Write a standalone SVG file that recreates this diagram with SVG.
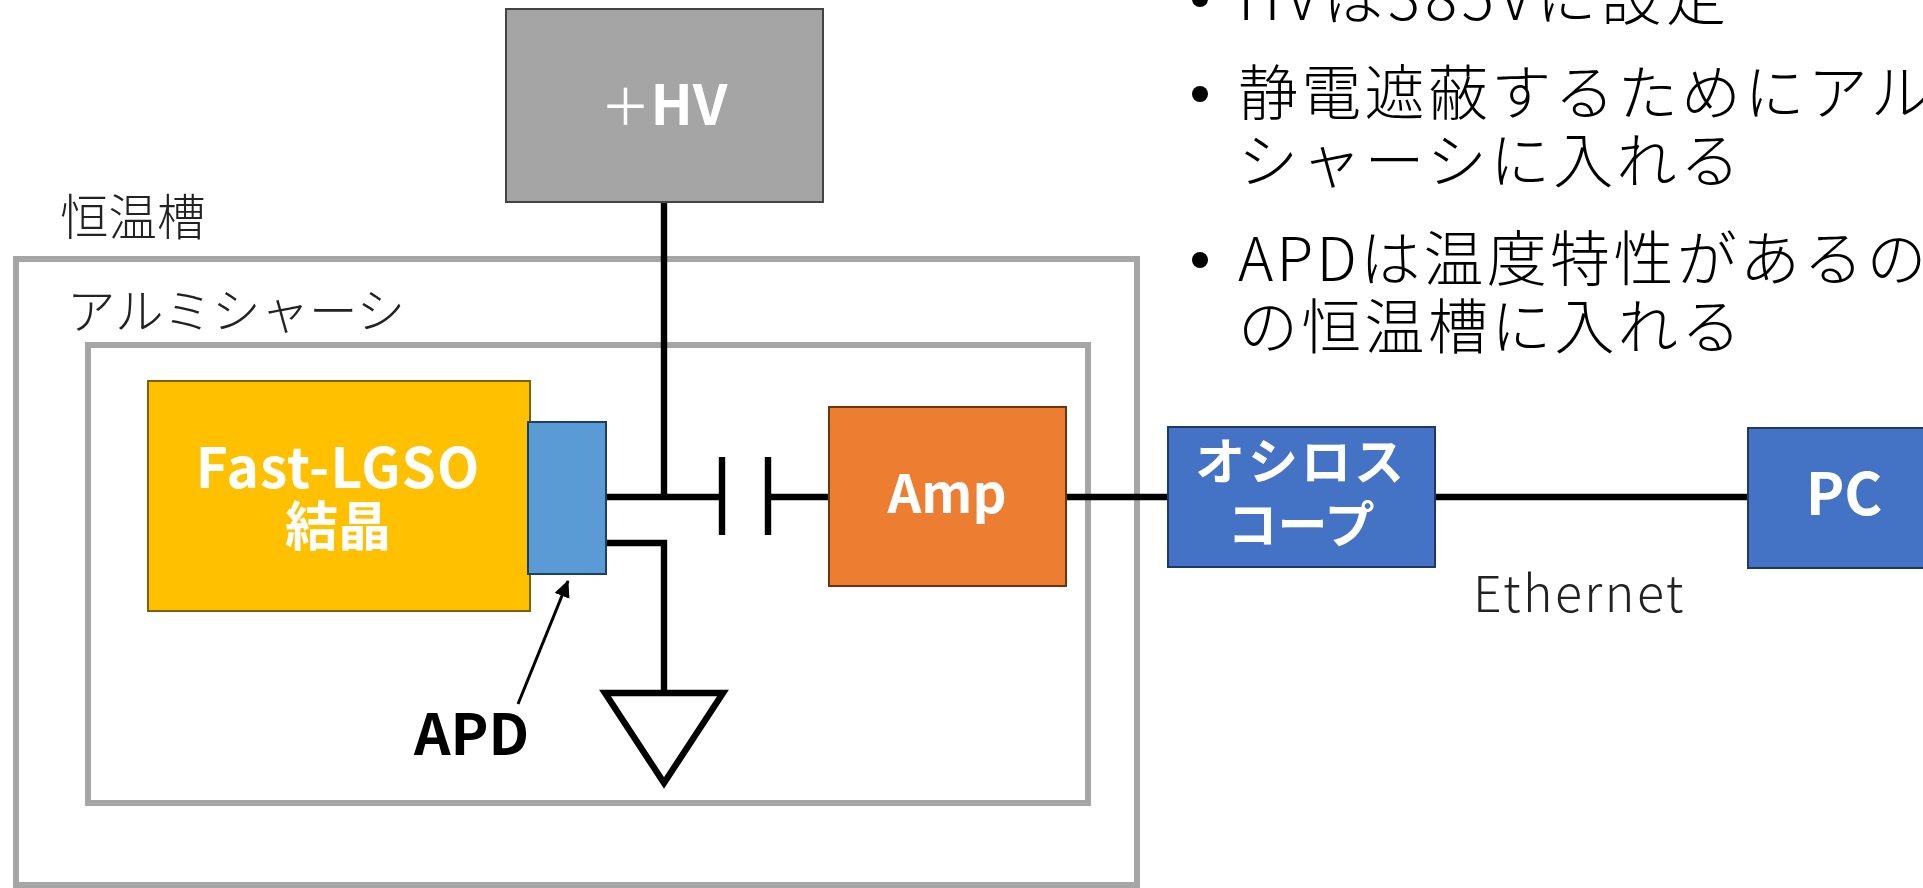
<svg xmlns="http://www.w3.org/2000/svg" width="1923" height="888" viewBox="0 0 1923 888">
<style>
text{font-family:"Noto Sans CJK JP","Noto Sans",sans-serif}
.frame{fill:none;stroke:#a6a6a6;stroke-width:6}
.lab{fill:#fff;font-weight:700;text-anchor:middle;font-size:53px}
.body{font-size:60px;font-weight:300;fill:#000;letter-spacing:3.3px}
.note{font-size:48.5px;font-weight:300;fill:#222}
.wire{fill:none;stroke:#000;stroke-width:6.4}
</style>
<defs><marker id="ah" markerUnits="userSpaceOnUse" markerWidth="18" markerHeight="18" refX="16" refY="8" orient="auto"><path d="M0 0L17 8L0 16Z" fill="#000"/></marker></defs>
<rect width="1923" height="888" fill="#fff"/>
<g id="outer-box"><rect class="frame" x="16" y="259" width="1121" height="626"/><text class="note" x="60" y="235">恒温槽</text></g>
<g id="chassis-box"><rect class="frame" x="88" y="345" width="1000" height="458"/><text class="note" x="67" y="329">アルミシャーシ</text></g>
<g id="connectors">
<path class="wire" d="M664 202V497M606 497H722M768 497H829M606 543H664V693M1066 497H1168M1435 497H1748"/>
<path class="wire" d="M722 457V535M768 457V535"/>
<path class="wire" d="M605 693H723L664 783Z"/>
<path fill="none" stroke="#000" stroke-width="3" marker-end="url(#ah)" d="M518 704L568 581"/>
</g>
<g id="hv"><rect x="506" y="9" width="317" height="193" fill="#a5a5a5" stroke="#444" stroke-width="2"/><text class="lab" x="664" y="125" style="font-size:56px"><tspan font-weight="400" font-size="50">＋</tspan>HV</text></g>
<g id="crystal"><rect x="148" y="381" width="382" height="230" fill="#ffc000" stroke="#7f6000" stroke-width="2"/><text class="lab" x="338" y="488" style="font-size:55px;letter-spacing:1px">Fast-LGSO</text><text class="lab" x="338" y="546">結晶</text></g>
<g id="apd"><rect x="528" y="422" width="78" height="152" fill="#5b9bd5" stroke="#1f3f60" stroke-width="2"/></g>
<g id="amp"><rect x="829" y="407" width="237" height="179" fill="#ed7d31" stroke="#6b3510" stroke-width="2"/><text class="lab" x="947" y="513">Amp</text></g>
<g id="scope"><rect x="1168" y="427" width="267" height="140" fill="#4472c4" stroke="#1f3864" stroke-width="2"/><text class="lab" x="1301" y="480" style="font-size:50px;letter-spacing:3px">オシロス</text><text class="lab" x="1301" y="543" style="font-size:50px">コープ</text></g>
<g id="pc"><rect x="1748" y="428" width="180" height="140" fill="#4472c4" stroke="#1f3864" stroke-width="2"/><text class="lab" x="1844" y="515" style="font-size:58px">PC</text></g>
<text class="note" x="1473" y="612" style="font-size:50px;letter-spacing:2.5px">Ethernet</text>
<text x="414" y="755" font-size="57" font-weight="700" fill="#000">APD</text>
<g id="notes">
<circle cx="1200" cy="-1" r="8"/><circle cx="1200" cy="94" r="8"/><circle cx="1200" cy="260" r="8"/>
<text class="body" x="1238" y="20" style="letter-spacing:4.8px">HVは385Vに設定</text>
<text class="body" x="1238" y="115">静電遮蔽するためにアルミ</text>
<text class="body" x="1238" y="183">シャーシに入れる</text>
<text class="body" x="1238" y="281">APDは温度特性があるので</text>
<text class="body" x="1238" y="349">の恒温槽に入れる</text>
</g>
</svg>
